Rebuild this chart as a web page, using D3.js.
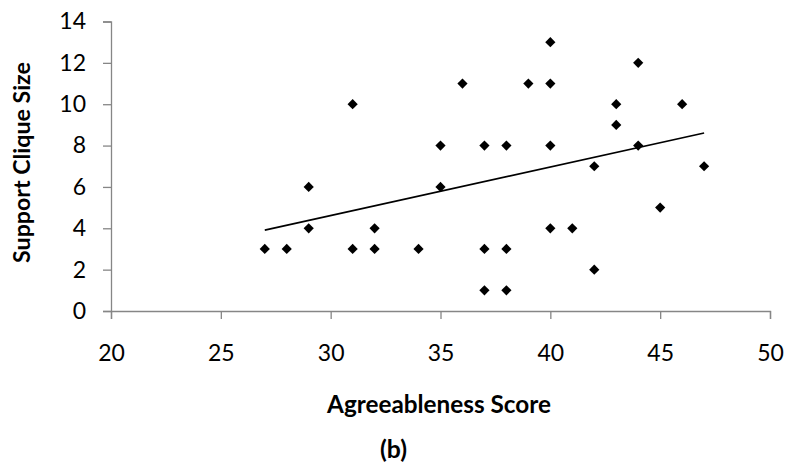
<!DOCTYPE html>
<html>
<head>
<meta charset="utf-8">
<script src="https://cdn.jsdelivr.net/npm/d3@7"></script>
<style>
  html, body { margin: 0; padding: 0; background: #fff; }
  svg { display: block; }
  text { font-family: Lato, "Open Sans", sans-serif; fill: #000; }
</style>
</head>
<body>
<svg id="chart" width="790" height="468"></svg>
<script>
// ---- data ----
const agreeableness = [27, 28, 29, 29, 31, 31, 32, 32, 34, 35, 35, 36, 37, 37, 37, 38, 38, 38, 39, 40, 40, 40, 40, 41, 42, 42, 43, 43, 44, 44, 45, 46, 47];
const cliqueSize    = [ 3,  3,  6,  4, 10,  3,  4,  3,  3,  8,  6, 11,  8,  3,  1,  8,  3,  1, 11, 13, 11,  8,  4,  4,  7,  2, 10,  9, 12,  8,  5, 10,  7];
const trendX = [27, 47];
const trendY = [3.91, 8.61];
const xTicks = [20, 25, 30, 35, 40, 45, 50];
const yTicks = [0, 2, 4, 6, 8, 10, 12, 14];
const xTitle = "Agreeableness Score";
const yTitle = "Support Clique Size";
const caption = "(b)";

const svg = d3.select("#chart");
const axisColor = "#868686";

const x = d3.scaleLinear().domain([20, 50]).range([111, 770]);
const y = d3.scaleLinear().domain([0, 14]).range([311, 21.5]);

// y axis
const yAxis = svg.append("g").attr("transform", `translate(${x(20)},0)`)
  .call(d3.axisLeft(y).tickValues(yTicks).tickSize(8).tickPadding(17).tickFormat(d3.format("d")));
// x axis
const xAxis = svg.append("g").attr("transform", `translate(0,${y(0)})`)
  .call(d3.axisBottom(x).tickValues(xTicks).tickSize(8).tickPadding(26).tickFormat(d3.format("d")));

[xAxis, yAxis].forEach(g => {
  g.select(".domain").attr("stroke", axisColor).attr("stroke-width", 1.3);
  g.selectAll(".tick line").attr("stroke", axisColor).attr("stroke-width", 1.3);
  g.selectAll(".tick text").attr("font-size", 23).attr("font-family", "Lato, sans-serif").attr("fill", "#000");
});

// trend line
const pts = trendX.map((v, i) => [v, trendY[i]]);
svg.append("path")
  .attr("d", d3.line().x(d => x(d[0])).y(d => y(d[1]))(pts))
  .attr("stroke", "#000").attr("stroke-width", 1.6).attr("fill", "none");

// points (diamonds)
const diamond = d3.symbol().type(d3.symbolSquare).size(52);
svg.append("g").selectAll("path")
  .data(agreeableness.map((v, i) => [v, cliqueSize[i]]))
  .join("path")
  .attr("d", diamond)
  .attr("transform", d => `translate(${x(d[0])},${y(d[1])}) rotate(45)`)
  .attr("fill", "#000");

// titles sized to reference widths
function fitText(sel, target) {
  const len = sel.node().getComputedTextLength();
  const fs = parseFloat(sel.attr("font-size"));
  sel.attr("font-size", fs * target / len);
}

const xt = svg.append("text")
  .attr("x", 439).attr("y", 413)
  .attr("text-anchor", "middle").attr("font-weight", "bold").attr("font-size", 25)
  .text(xTitle);
fitText(xt, 224);

const yt = svg.append("text")
  .attr("transform", "translate(30,162.5) rotate(-90)")
  .attr("text-anchor", "middle").attr("font-weight", "bold").attr("font-size", 25)
  .text(yTitle);
fitText(yt, 201);

const cap = svg.append("text")
  .attr("x", 393.5).attr("y", 458)
  .attr("text-anchor", "middle").attr("font-weight", "bold").attr("font-size", 22)
  .text(caption);
fitText(cap, 27);
</script>
</body>
</html>
